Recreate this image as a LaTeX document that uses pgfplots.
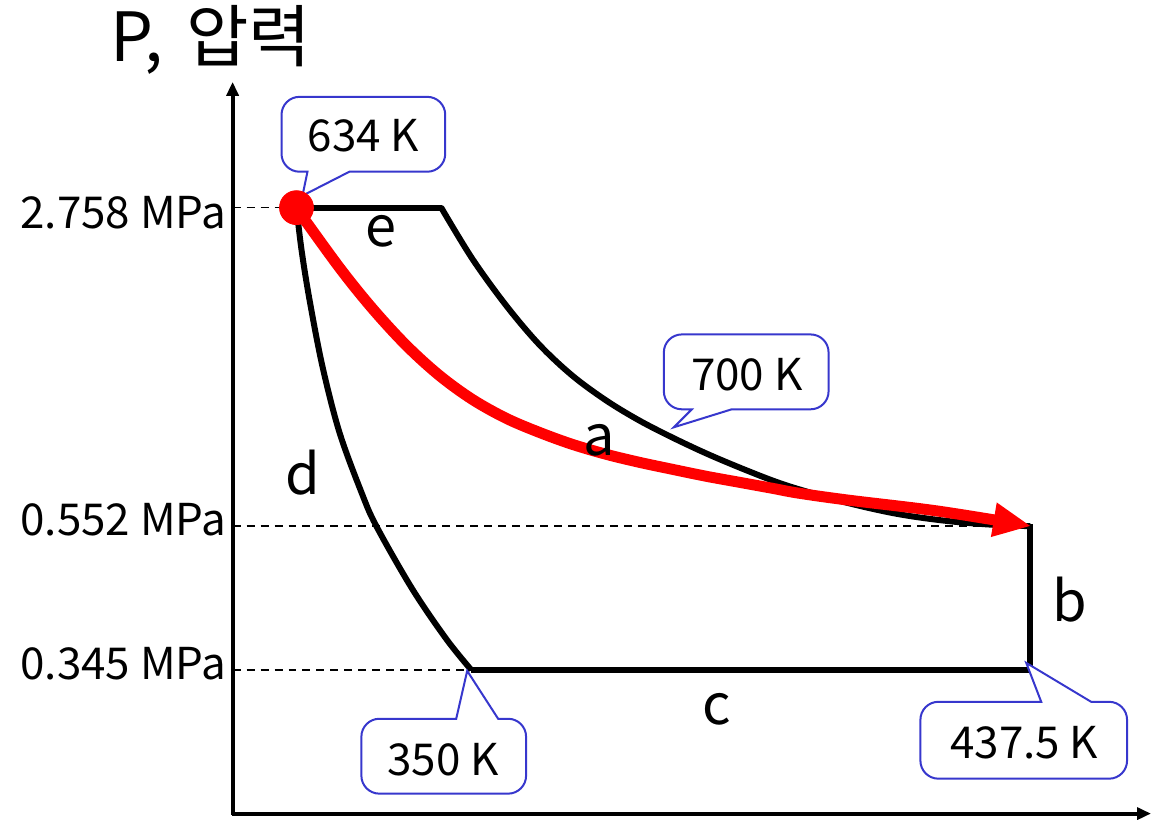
\documentclass[border=0pt]{standalone}
\usepackage{pgfplots}
\pgfplotsset{compat=1.18}
\usepackage{fontspec}
\setmainfont{Noto Sans CJK KR}
\usetikzlibrary{arrows.meta}
\definecolor{callblue}{RGB}{55,55,205}
\definecolor{pred}{RGB}{255,0,0}
\newcommand{\tickfont}{\fontsize{22}{26}\selectfont}
\newcommand{\callfont}{\fontsize{22}{26}\selectfont}
\newcommand{\letfont}{\fontsize{28}{32}\selectfont}
\begin{document}
\begin{tikzpicture}
\begin{axis}[
  width=576.5pt, height=410pt, scale only axis,
  xmin=0, xmax=1153, ymin=0, ymax=820, y dir=reverse,
  hide axis, clip=false]
\path (axis cs:0,0) rectangle (axis cs:1153,820);
% dashed guide lines
\draw[black, line width=0.8pt, dash pattern=on 4pt off 3pt] (axis cs:233,208) -- (axis cs:297,208);
\draw[black, line width=0.8pt, dash pattern=on 4pt off 3pt] (axis cs:233,527) -- (axis cs:1032,527);
\draw[black, line width=0.8pt, dash pattern=on 4pt off 3pt] (axis cs:233,671) -- (axis cs:472,671);
% axes
\draw[line width=2pt, -{Triangle[length=7pt,width=6pt]}] (axis cs:233,816) -- (axis cs:233,82);
\draw[line width=2pt, -{Triangle[length=7pt,width=6pt]}] (axis cs:232,815) -- (axis cs:1153,815);
% tick labels
\node[anchor=east, inner sep=0pt] at (axis cs:227,213) {\tickfont 2.758 MPa};
\node[anchor=east, inner sep=0pt] at (axis cs:227,521) {\tickfont 0.552 MPa};
\node[anchor=east, inner sep=0pt] at (axis cs:227,665) {\tickfont 0.345 MPa};
\node[inner sep=0pt] at (axis cs:211,40) {\fontsize{34}{38}\selectfont P,\,\,압력};
% e: constant pressure
\addplot[black, line width=3pt, line cap=round] coordinates {(297,208) (442,208)};
% a: expansion
\addplot[black, line width=3pt, smooth, tension=0.55] coordinates {
(442,208) (473,259) (507,306) (540,345) (573,376) (607,401) (640,421)
(673,438) (707,454) (740,468) (773,481) (800,490) (850,504) (900,515)
(950,522) (1000,526) (1032,527)};
% b
\addplot[black, line width=3pt] coordinates {(1032,525) (1032,671)};
% c
\addplot[black, line width=3pt] coordinates {(1033,671) (472,671)};
% d: compression
\addplot[black, line width=3pt, smooth, tension=0.55] coordinates {
(472,671) (447,640) (413,590) (377,527) (362,493) (340,433) (323,367)
(310,300) (302,250) (297,208)};
% red process
\addplot[pred, line width=5.5pt, smooth, tension=0.55, -{Triangle[length=19pt,width=16pt]}] coordinates {
(298,210) (340,268) (373,309) (407,346) (440,376) (473,400) (507,419)
(540,433) (573,445) (607,455) (640,463) (673,470) (707,477) (740,483)
(773,489) (800,494) (850,501) (940,512) (1033,527)};
\addplot[only marks, mark=*, mark size=8.5pt, pred, draw=pred] coordinates {(297,208)};
% letters
\node at (axis cs:382,232) {\letfont e};
\node at (axis cs:600,441) {\letfont a};
\node at (axis cs:303,473) {\letfont d};
\node at (axis cs:1072,601) {\letfont b};
\node at (axis cs:718,711) {\letfont c};
% callouts
\draw[callblue, line width=1pt, fill=white] (axis cs:308,172) -- (axis cs:303,196) -- (axis cs:350,172)
  {[rounded corners=9pt] -- (axis cs:446,172) -- (axis cs:446,97) -- (axis cs:282,97) -- (axis cs:282,172)} -- cycle;
\node at (axis cs:364,136) {\callfont 634 K};
\draw[callblue, line width=1pt, fill=white] (axis cs:693,410) -- (axis cs:675,428) -- (axis cs:733,410)
  {[rounded corners=9pt] -- (axis cs:830,410) -- (axis cs:830,335) -- (axis cs:665,335) -- (axis cs:665,410)} -- cycle;
\node at (axis cs:748,375) {\callfont 700 K};
\draw[callblue, line width=1pt, fill=white] (axis cs:457,720) -- (axis cs:468,672) -- (axis cs:499,720)
  {[rounded corners=9pt] -- (axis cs:527,720) -- (axis cs:527,795) -- (axis cs:362,795) -- (axis cs:362,720)} -- cycle;
\node at (axis cs:444,761) {\callfont 350 K};
\draw[callblue, line width=1pt, fill=white] (axis cs:1043,703) -- (axis cs:1028,664) -- (axis cs:1093,703)
  {[rounded corners=9pt] -- (axis cs:1129,703) -- (axis cs:1129,780) -- (axis cs:922,780) -- (axis cs:922,703)} -- cycle;
\node at (axis cs:1026,744) {\callfont 437.5 K};
\end{axis}
\end{tikzpicture}
\end{document}
